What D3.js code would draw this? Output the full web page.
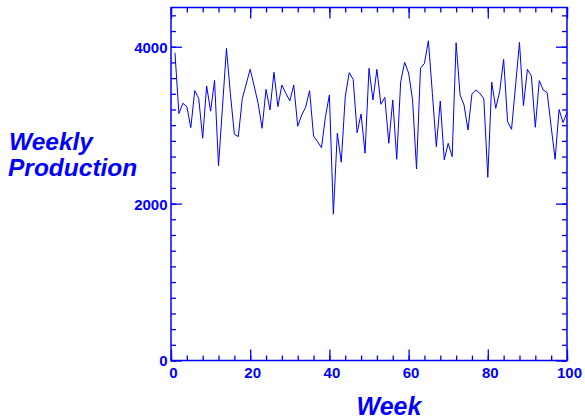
<!DOCTYPE html>
<html>
<head>
<meta charset="utf-8">
<script src="https://cdn.jsdelivr.net/npm/d3@7"></script>
<style>
  body { margin: 0; background: #fff; }
  svg { display: block; }
  text { font-family: "Liberation Sans", Arial, Helvetica, sans-serif; }
</style>
</head>
<body>
<svg width="585" height="419"></svg>
<script>
const ink = '#0000ff';

// weeks 1..100
const weeks = d3.range(1, 101);
const production = [
  3924, 3147, 3279, 3236, 2968, 3440, 3342, 2833, 3500, 3178,
  3570, 2482, 3230, 3979, 3400, 2884, 2854, 3336, 3525, 3712,
  3499, 3279, 2960, 3457, 3194, 3674, 3236, 3512, 3406, 3310,
  3512, 2986, 3130, 3228, 3440, 2862, 2790, 2713, 3108, 3385,
  1865, 2897, 2527, 3363, 3669, 3585, 2904, 3143, 2642, 3725,
  3321, 3712, 3266, 3355, 2769, 3321, 2565, 3554, 3801, 3665,
  3325, 2442, 3725, 3788, 4076, 3406, 2726, 3308, 2557, 2769,
  2599, 4051, 3385, 3257, 2939, 3398, 3449, 3406, 3334, 2335,
  3548, 3215, 3427, 3839, 3045, 2947, 3499, 4056, 3248, 3712,
  3627, 2973, 3567, 3449, 3414, 2980, 2565, 3200, 3033, 3165
];

const xMajor = [0, 20, 40, 60, 80, 100];
const xMinor = d3.range(0, 101, 4);
const yMajor = [0, 2000, 4000];
const yMinor = d3.range(0, 4501, 200);

const plotLeft = 171, plotRight = 567, plotTop = 7.5, plotBottom = 360.5;

const svg = d3.select('svg');

const x = d3.scaleLinear().domain([0, 100]).range([plotLeft, plotRight]);
const y = d3.scaleLinear().domain([0, 4500]).range([plotBottom, plotTop]);

// inward ticks on all four sides
function drawAxis(axisFn, scale, values, size, pos, labels) {
  const g = svg.append('g')
    .attr('transform', pos)
    .call(axisFn(scale)
      .tickValues(values)
      .tickSizeInner(-size)
      .tickSizeOuter(0)
      .tickPadding(labels ? 4 + size : 0)
      .tickFormat(labels ? d3.format('d') : ''));
  g.select('.domain').remove();
  g.selectAll('line').attr('stroke', ink).attr('stroke-width', 1.3);
  g.selectAll('text')
    .attr('fill', ink)
    .attr('font-size', 15)
    .attr('font-weight', 'bold')
    .attr('font-family', '"Liberation Sans", Arial, sans-serif');
  return g;
}

drawAxis(d3.axisLeft, y, yMinor, 5, `translate(${plotLeft},0)`, false);
drawAxis(d3.axisRight, y, yMinor, 5, `translate(${plotRight},0)`, false);
drawAxis(d3.axisRight, y, yMajor, 11, `translate(${plotRight},0)`, false);
drawAxis(d3.axisBottom, x, xMinor, 5, `translate(0,${plotBottom})`, false);
drawAxis(d3.axisTop, x, xMinor, 5, `translate(0,${plotTop})`, false);
drawAxis(d3.axisTop, x, xMajor, 11, `translate(0,${plotTop})`, false);

const yl = drawAxis(d3.axisLeft, y, yMajor, 11, `translate(${plotLeft},0)`, true);
yl.selectAll('text').attr('x', -3.5).attr('dy', '0.36em');
const xl = drawAxis(d3.axisBottom, x, xMajor, 11, `translate(0,${plotBottom})`, true);
xl.selectAll('text').attr('x', 2).attr('y', 7);

// frame
svg.append('rect')
  .attr('x', plotLeft)
  .attr('y', plotTop)
  .attr('width', plotRight - plotLeft)
  .attr('height', plotBottom - plotTop)
  .attr('fill', 'none')
  .attr('stroke', ink)
  .attr('stroke-width', 1.5);

const line = d3.line()
  .x((d, i) => x(weeks[i]))
  .y(d => y(d));

svg.append('path')
  .datum(production)
  .attr('d', line)
  .attr('fill', 'none')
  .attr('stroke', ink)
  .attr('stroke-width', 1)
  .attr('stroke-linejoin', 'miter');

// axis titles
const title = svg.append('text')
  .attr('fill', ink)
  .attr('font-size', 24.5)
  .attr('font-weight', 'bold')
  .attr('font-style', 'italic');
title.append('tspan').attr('x', 9).attr('y', 149.5).text('Weekly');
title.append('tspan').attr('x', 8).attr('y', 175.5).text('Production');

svg.append('text')
  .attr('x', 389)
  .attr('y', 415)
  .attr('text-anchor', 'middle')
  .attr('fill', ink)
  .attr('font-size', 25)
  .attr('font-weight', 'bold')
  .attr('font-style', 'italic')
  .text('Week');
</script>
</body>
</html>
